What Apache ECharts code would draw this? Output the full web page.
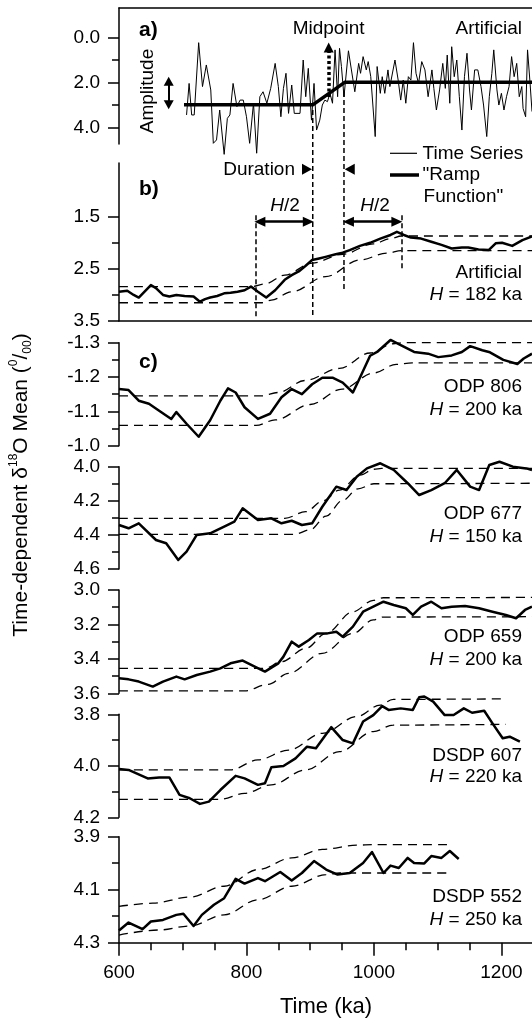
<!DOCTYPE html>
<html><head><meta charset="utf-8">
<script src="https://cdn.jsdelivr.net/npm/echarts@6/dist/echarts.min.js"></script>
<style>html,body{margin:0;padding:0;background:#fff}#main{width:532px;height:1019px}</style>
</head><body><div id="main"></div>
<script>
// ---------------- DATA ----------------
const X_MIN = 600, X_MAX = 1248;
const xMajorTicks = [600, 800, 1000, 1200];
const xMinorTicks = [650, 700, 750, 850, 900, 950, 1050, 1100, 1150];

// y tick labels per panel
const aMajor = [0, 2, 4], aMinor = [1, 3];
const bMajor = [1.5, 2.5, 3.5], bMinor = [2, 3];
const m806 = [-1.3, -1.2, -1.1, -1.0], n806 = [-1.25, -1.15, -1.05];
const m677 = [4.0, 4.2, 4.4, 4.6], n677 = [4.1, 4.3, 4.5];
const m659 = [3.0, 3.2, 3.4, 3.6], n659 = [3.1, 3.3, 3.5];
const m607 = [3.8, 4.0, 4.2], n607 = [3.9, 4.1];
const m552 = [3.9, 4.1, 4.3], n552 = [4.0, 4.2];

// a) artificial time series
const aTime = [706,710,714,718,725,731,737,744,748,753,758,765,770,774,779,785,790,795,800,805,811,816,821,826,832,838,845,850,854,858,862,866,871,875,884,889,893,897,902,906,910,915,919,923,927,931,935,939,943,946,949,953,960,970,976,979,983,988,991,995,1002,1005,1010,1013,1017,1022,1025,1033,1038,1042,1046,1050,1054,1058,1062,1066,1070,1075,1080,1085,1091,1094,1098,1103,1108,1112,1115,1119,1122,1126,1130,1134,1138,1142,1146,1150,1153,1158,1163,1168,1172,1177,1181,1185,1188,1193,1196,1200,1204,1208,1212,1216,1220,1224,1228,1232,1234,1238,1241,1245,1248];
const aValue = [3.45,2.05,3.45,3.45,0.24,2.19,1.23,2.34,4.71,4.56,3.23,5.2,3.6,3.45,2.05,3.08,2.79,2.79,3.53,4.71,2.93,5.15,2.64,2.42,2.93,2.27,1.16,2.19,3.53,2.27,1.6,3.38,2.12,3.38,3.38,1.01,2.64,1.38,3.68,2.05,4.12,3.68,3.01,2.79,2.86,2.49,2.93,0.56,2.64,0.49,1.3,2.64,0.6,2.42,1.16,1.6,0.86,1.45,1.08,1.75,4.41,1.3,2.49,1.75,2.49,1.45,2.19,1.01,1.9,2.79,1.9,2.93,1.75,1.9,0.24,1.6,2.05,1.08,1.45,2.64,1.45,2.27,3.23,2.34,1.16,2.27,0.79,2.93,0.42,1.75,1.01,2.64,4.12,1.75,0.71,2.34,3.23,1.45,1.45,2.19,3.01,4.41,2.64,1.6,0.56,2.34,3.01,2.49,3.23,2.64,2.19,0.86,1.75,1.16,2.64,2.19,3.16,3.53,0.56,2.05,3.3];
const rampTime = [702, 904, 954, 1248];
const rampValue = [3.0, 3.0, 2.0, 2.0];
const midpointTime = 929;
const durationStart = 904, durationEnd = 953;
const halfStart = 814, halfEnd = 1043;
const amplitudeTime = 678;

// b) artificial running mean
const bTime = [600,613,623,631,650,658,669,679,690,703,717,727,735,743,754,765,775,786,797,807,818,831,845,860,871,882,892,903,914,924,940,951,962,978,994,1010,1026,1036,1047,1058,1074,1090,1106,1122,1138,1148,1164,1180,1191,1201,1217,1233,1248];
const bValue = [2.94,2.92,3.00,3.05,2.81,2.87,3.00,3.03,3.00,3.02,3.03,3.13,3.08,3.05,3.02,2.97,2.96,2.94,2.91,2.84,2.94,3.05,2.91,2.71,2.62,2.55,2.45,2.33,2.30,2.27,2.22,2.19,2.14,2.06,2.00,1.92,1.85,1.79,1.85,1.90,1.92,1.98,2.04,2.11,2.09,2.09,2.13,2.14,2.01,2.00,2.06,1.95,1.88];
const bUpT = [600,807,829,860,903,951,999,1026,1043,1248];
const bUpV = [2.84,2.84,2.79,2.62,2.39,2.22,2.02,1.92,1.87,1.87];
const bLoT = [600,823,839,871,924,978,1020,1043,1248];
const bLoV = [3.15,3.15,3.10,2.94,2.65,2.33,2.20,2.15,2.15];

// c) ODP 806
const t806 = [600,615,631,647,663,682,690,706,725,743,759,771,783,797,818,837,855,871,887,903,919,935,951,967,978,994,1005,1026,1042,1063,1085,1101,1122,1138,1151,1170,1182,1203,1225,1235,1248];
const v806 = [-1.165,-1.162,-1.131,-1.122,-1.102,-1.078,-1.098,-1.064,-1.026,-1.074,-1.131,-1.167,-1.155,-1.112,-1.078,-1.093,-1.141,-1.165,-1.150,-1.179,-1.198,-1.198,-1.184,-1.155,-1.198,-1.262,-1.273,-1.308,-1.293,-1.273,-1.268,-1.258,-1.263,-1.273,-1.290,-1.278,-1.272,-1.250,-1.238,-1.254,-1.268];
const u806t = [600,823,850,892,946,994,1030,1045,1248];
const u806v = [-1.145,-1.145,-1.155,-1.19,-1.225,-1.27,-1.297,-1.30,-1.30];
const l806t = [600,815,845,900,950,1000,1035,1060,1248];
const l806v = [-1.059,-1.059,-1.075,-1.12,-1.165,-1.212,-1.237,-1.241,-1.241];

// ODP 677
const t677 = [600,615,631,658,674,693,706,722,743,765,781,794,818,839,855,871,887,903,919,941,957,973,989,1010,1031,1053,1071,1090,1111,1130,1151,1165,1181,1197,1218,1239,1248];
const v677 = [4.342,4.361,4.332,4.43,4.449,4.547,4.498,4.40,4.391,4.352,4.322,4.244,4.313,4.303,4.332,4.317,4.342,4.332,4.235,4.117,4.137,4.059,4.01,3.98,4.019,4.097,4.166,4.137,4.097,4.019,4.117,4.137,3.99,3.971,4.0,4.01,4.02];
const u677t = [600,860,893,920,946,978,1000,1012,1248];
const u677v = [4.303,4.303,4.264,4.2,4.137,4.05,4.015,4.01,4.01];
const l677t = [600,875,900,925,950,975,1000,1248];
const l677v = [4.397,4.397,4.37,4.29,4.20,4.13,4.10,4.097];

// ODP 659
const t659 = [600,615,631,653,669,690,703,722,743,759,775,794,813,829,850,858,871,882,898,911,927,941,951,967,983,999,1015,1031,1050,1061,1074,1090,1106,1122,1143,1165,1186,1207,1223,1237,1248];
const v659 = [3.513,3.519,3.532,3.561,3.532,3.503,3.519,3.494,3.474,3.455,3.426,3.41,3.445,3.474,3.426,3.387,3.30,3.329,3.29,3.252,3.252,3.242,3.271,3.213,3.126,3.097,3.068,3.087,3.106,3.145,3.097,3.068,3.106,3.097,3.093,3.106,3.126,3.145,3.164,3.116,3.097];
const u659t = [600,829,855,893,925,967,999,1015,1248];
const u659v = [3.455,3.455,3.416,3.339,3.252,3.126,3.06,3.045,3.043];
const l659t = [600,797,834,866,919,967,999,1015,1248];
const l659v = [3.586,3.586,3.548,3.484,3.368,3.252,3.174,3.157,3.155];

// DSDP 607
const t607 = [600,615,645,663,679,695,711,727,741,759,783,797,818,829,839,858,877,895,909,933,951,967,983,999,1013,1023,1042,1061,1071,1079,1093,1111,1125,1141,1154,1173,1186,1202,1213,1229];
const v607 = [4.012,4.016,4.049,4.045,4.045,4.113,4.126,4.148,4.139,4.094,4.039,4.049,4.074,4.068,4.006,4.001,3.971,3.926,3.932,3.85,3.90,3.913,3.828,3.803,3.768,3.783,3.777,3.783,3.734,3.731,3.751,3.803,3.803,3.777,3.794,3.786,3.835,3.893,3.887,3.906];
const u607t = [600,775,818,866,919,973,1010,1030,1207];
const u607v = [4.016,4.016,3.977,3.939,3.874,3.809,3.764,3.742,3.74];
const l607t = [600,759,797,839,893,946,999,1030,1207];
const l607v = [4.13,4.13,4.107,4.074,4.016,3.945,3.867,3.842,3.839];

// DSDP 552
const t552 = [600,615,637,650,669,690,701,717,730,749,765,783,797,818,829,853,871,887,906,925,943,962,983,997,1015,1026,1039,1053,1063,1079,1090,1106,1119,1133];
const v552 = [4.254,4.224,4.249,4.22,4.214,4.195,4.191,4.237,4.195,4.157,4.132,4.059,4.077,4.056,4.068,4.033,4.065,4.037,3.992,4.024,4.043,4.037,3.999,3.958,4.037,4.009,4.018,3.98,3.999,4.001,3.973,3.98,3.954,3.984];
const u552t = [600,653,711,765,818,871,919,973,999,1117];
const u552v = [4.163,4.151,4.128,4.087,4.024,3.98,3.948,3.932,3.93,3.93];
const l552t = [600,663,711,765,818,871,925,946,1117];
const l552v = [4.271,4.252,4.237,4.195,4.138,4.087,4.043,4.037,4.037];

// ---------------- CHART ----------------
const FONT = '"Liberation Sans", Arial, Helvetica, sans-serif';
const INK = '#000';
const zip = (t, v) => t.map((x, i) => [x, v[i]]);

const panels = [
  {top: 8,     height: 136,   min: -1.30, max: 4.74, major: aMajor, minor: aMinor},
  {top: 163,   height: 158,   min: 0.47,  max: 3.5,  major: bMajor, minor: bMinor},
  {top: 342.7, height: 103,   min: -1.3,  max: -1.0, major: m806,   minor: n806},
  {top: 466.7, height: 102.3, min: 4.0,   max: 4.6,  major: m677,   minor: n677},
  {top: 590,   height: 103.3, min: 3.0,   max: 3.6,  major: m659,   minor: n659},
  {top: 714.3, height: 103,   min: 3.8,   max: 4.2,  major: m607,   minor: n607},
  {top: 836.7, height: 106,   min: 3.9,   max: 4.3,  major: m552,   minor: n552}
];

const grid = panels.map(p => ({left: 119, right: 0, top: p.top, height: p.height, containLabel: false, outerBoundsMode: 'none'}));

const xAxis = panels.map((p, i) => ({
  type: 'value', gridIndex: i, min: X_MIN, max: X_MAX, position: i === 0 ? 'top' : 'bottom', offset: 0,
  splitLine: {show: false},
  axisLine: {show: i <= 1 || i === 6, onZero: false, lineStyle: {color: INK, width: 1.5}},
  axisTick: i === 6 ? {show: true, customValues: xMajorTicks, length: 13, lineStyle: {color: INK, width: 1.5}} : {show: false},
  axisLabel: i === 6 ? {show: true, customValues: xMajorTicks, margin: 21, color: INK, fontSize: 19, fontFamily: FONT, formatter: v => String(v)} : {show: false}
}));
xAxis.push({
  type: 'value', gridIndex: 6, min: X_MIN, max: X_MAX, position: 'bottom', offset: 0, splitLine: {show: false},
  axisLine: {show: false, onZero: false},
  axisTick: {show: true, customValues: xMinorTicks, length: 7.5, lineStyle: {color: INK, width: 1.5}},
  axisLabel: {show: false}
});

const yAxis = [];
panels.forEach((p, i) => {
  yAxis.push({
    type: 'value', gridIndex: i, min: p.min, max: p.max, inverse: true, position: 'left', offset: 0, splitLine: {show: false},
    axisLine: {show: true, onZero: false, lineStyle: {color: INK, width: 1.5}},
    axisTick: {show: true, customValues: p.major, length: 11, lineStyle: {color: INK, width: 1.5}},
    axisLabel: {show: true, customValues: p.major, margin: 19, color: INK, fontSize: 19, fontFamily: FONT, formatter: v => Number(v).toFixed(1)}
  });
  yAxis.push({
    type: 'value', gridIndex: i, min: p.min, max: p.max, inverse: true, position: 'left', offset: 0, splitLine: {show: false},
    axisLine: {show: false, onZero: false},
    axisTick: {show: true, customValues: p.minor, length: 7, lineStyle: {color: INK, width: 1.5}},
    axisLabel: {show: false}
  });
});

const solid = {color: INK, width: 2.5, join: 'round'};
const dashed = {color: INK, width: 1.3, type: [9, 6]};
function line(panel, t, v, style, extra) {
  return Object.assign({
    type: 'line', xAxisIndex: panel, yAxisIndex: panel * 2, data: zip(t, v),
    symbol: 'none', showSymbol: false, clip: false, silent: true, animation: false,
    lineStyle: style, emphasis: {disabled: true}, z: 3
  }, extra || {});
}
const smoothDash = {smooth: 0.35, smoothMonotone: 'x', z: 2};

const series = [
  // 0: a) time series, with amplitude arrow
  line(0, aTime, aValue, {color: INK, width: 1, join: 'round'}, {
    markLine: {
      silent: true, animation: false, label: {show: false}, symbol: ['triangle', 'triangle'], symbolSize: [10, 9],
      lineStyle: {color: INK, width: 2, type: 'solid'}, emphasis: {disabled: true},
      data: [[{coord: [amplitudeTime, 1.95]}, {coord: [amplitudeTime, 3.0]}]]
    }
  }),
  // 1: ramp with midpoint arrow
  line(0, rampTime, rampValue, {color: INK, width: 3.5, join: 'round'}, {
    z: 4,
    markLine: {
      silent: true, animation: false, label: {show: false}, symbol: ['none', 'triangle'], symbolSize: [10, 10],
      lineStyle: {color: INK, width: 3.5, type: [3, 2.5]}, emphasis: {disabled: true},
      data: [[{coord: [midpointTime, 2.65]}, {coord: [midpointTime, 0.45]}]]
    }
  }),
  // 2: b) running mean with window markers
  line(1, bTime, bValue, solid, {
    markLine: {
      silent: true, animation: false, label: {show: false}, symbol: ['none', 'none'], symbolSize: [10, 11],
      emphasis: {disabled: true},
      data: [
        [{coord: [halfStart, 1.47], lineStyle: {color: INK, width: 1.5, type: [5, 3]}}, {coord: [halfStart, 3.42]}],
        [{coord: [halfEnd, 1.47], lineStyle: {color: INK, width: 1.5, type: [5, 3]}}, {coord: [halfEnd, 2.49]}],
        [{coord: [halfStart + 7, 1.596], symbol: 'triangle', lineStyle: {color: INK, width: 2.5, type: 'solid'}}, {coord: [durationStart - 7, 1.596], symbol: 'triangle'}],
        [{coord: [durationEnd + 7, 1.596], symbol: 'triangle', lineStyle: {color: INK, width: 2.5, type: 'solid'}}, {coord: [halfEnd - 7, 1.596], symbol: 'triangle'}]
      ]
    },
    markPoint: {
      silent: true, animation: false, label: {show: false}, itemStyle: {color: INK},
      data: [
        {coord: [durationStart - 9, 0.591], symbol: 'triangle', symbolSize: [11, 10], symbolRotate: -90},
        {coord: [durationEnd + 9, 0.591], symbol: 'triangle', symbolSize: [11, 10], symbolRotate: 90}
      ]
    }
  }),
  line(1, bUpT, bUpV, dashed, smoothDash),
  line(1, bLoT, bLoV, dashed, smoothDash),
  line(2, t806, v806, solid), line(2, u806t, u806v, dashed, smoothDash), line(2, l806t, l806v, dashed, smoothDash),
  line(3, t677, v677, solid), line(3, u677t, u677v, dashed, smoothDash), line(3, l677t, l677v, dashed, smoothDash),
  line(4, t659, v659, solid), line(4, u659t, u659v, dashed, smoothDash), line(4, l659t, l659v, dashed, smoothDash),
  line(5, t607, v607, solid), line(5, u607t, u607v, dashed, smoothDash), line(5, l607t, l607v, dashed, smoothDash),
  line(6, t552, v552, solid), line(6, u552t, u552v, dashed, smoothDash), line(6, l552t, l552v, dashed, smoothDash)
];

const chart = echarts.init(document.getElementById('main'), null, {renderer: 'canvas'});
chart.setOption({animation: false, backgroundColor: '#fff', grid, xAxis, yAxis, series});

// ---------------- ANNOTATIONS ----------------
const P = (si, x, y) => chart.convertToPixel({seriesIndex: si}, [x, y]);
function txt(text, x, y, o) {
  o = o || {};
  const align = o.align || 'left';
  return {
    type: 'text', silent: true, x: x, y: y, rotation: o.rotation || 0, z: 10,
    style: Object.assign({
      text: text, x: 0, y: 0, fill: INK, fontSize: o.size || 19, fontFamily: FONT,
      fontWeight: o.bold ? 'bold' : 'normal',
      textAlign: align, align: align, textVerticalAlign: 'middle', verticalAlign: 'middle'
    }, o.style || {})
  };
}
const ital = {i: {fontStyle: 'italic', fontSize: 19, fontFamily: FONT, fill: INK}};
function vline(p1, p2) {
  return {type: 'line', silent: true, z: 5, shape: {x1: p1[0], y1: p1[1], x2: p2[0], y2: p2[1]},
    style: {stroke: INK, lineWidth: 1.5, lineDash: [5, 3]}};
}
const s1 = P(1, durationStart, 3.23), e1 = P(2, durationStart, 3.42);
const s2 = P(1, durationEnd, 2.43), e2 = P(2, durationEnd, 2.93);

const graphic = [
  vline(s1, e1), vline(s2, e2),
  // legend samples
  {type: 'line', silent: true, shape: {x1: 390, y1: 153.3, x2: 417, y2: 153.3}, style: {stroke: INK, lineWidth: 1.2}},
  {type: 'line', silent: true, shape: {x1: 390, y1: 175, x2: 419, y2: 175}, style: {stroke: INK, lineWidth: 3.5}},
  txt('Time Series', 422.6, 153.5),
  txt('"Ramp', 422.6, 175),
  txt('Function"', 423.6, 196.5),
  // panel a
  txt('a)', 139, 30, {bold: true, size: 21}),
  txt('Midpoint', 328.6, 29, {align: 'center'}),
  txt('Artificial', 522, 29, {align: 'right'}),
  txt('Amplitude', 147.7, 91, {align: 'center', rotation: Math.PI / 2}),
  txt('Duration', 295, 169.3, {align: 'right'}),
  // panel b
  txt('b)', 139, 189, {bold: true, size: 21}),
  txt('{i|H}/2', 285, 206, {align: 'center', style: {rich: ital}}),
  txt('{i|H}/2', 375, 206, {align: 'center', style: {rich: ital}}),
  txt('Artificial', 522, 273, {align: 'right'}),
  txt('{i|H} = 182 ka', 522, 295, {align: 'right', style: {rich: ital}}),
  // panel c
  txt('c)', 139, 362, {bold: true, size: 21}),
  txt('ODP 806', 522, 386.7, {align: 'right'}),
  txt('{i|H} = 200 ka', 522, 410, {align: 'right', style: {rich: ital}}),
  txt('ODP 677', 522, 514, {align: 'right'}),
  txt('{i|H} = 150 ka', 522, 537, {align: 'right', style: {rich: ital}}),
  txt('ODP 659', 522, 636.7, {align: 'right'}),
  txt('{i|H} = 200 ka', 522, 660, {align: 'right', style: {rich: ital}}),
  txt('DSDP 607', 522, 755.5, {align: 'right'}),
  txt('{i|H} = 220 ka', 522, 777, {align: 'right', style: {rich: ital}}),
  txt('DSDP 552', 522, 897, {align: 'right'}),
  txt('{i|H} = 250 ka', 522, 920, {align: 'right', style: {rich: ital}}),
  // axis titles
  txt('Time (ka)', 326, 1007, {align: 'center', size: 22}),
  txt('Time-dependent δ{sup|18}O Mean ({sup|0}/{sub|00})', 21, 485, {
    align: 'center', size: 21, rotation: Math.PI / 2,
    style: {lineHeight: 26, rich: {
      sup: {fontSize: 12, fontFamily: FONT, fill: INK, verticalAlign: 'top', lineHeight: 14},
      sub: {fontSize: 12, fontFamily: FONT, fill: INK, verticalAlign: 'bottom', lineHeight: 14}
    }}
  })
];
chart.setOption({graphic: graphic});
</script></body></html>
